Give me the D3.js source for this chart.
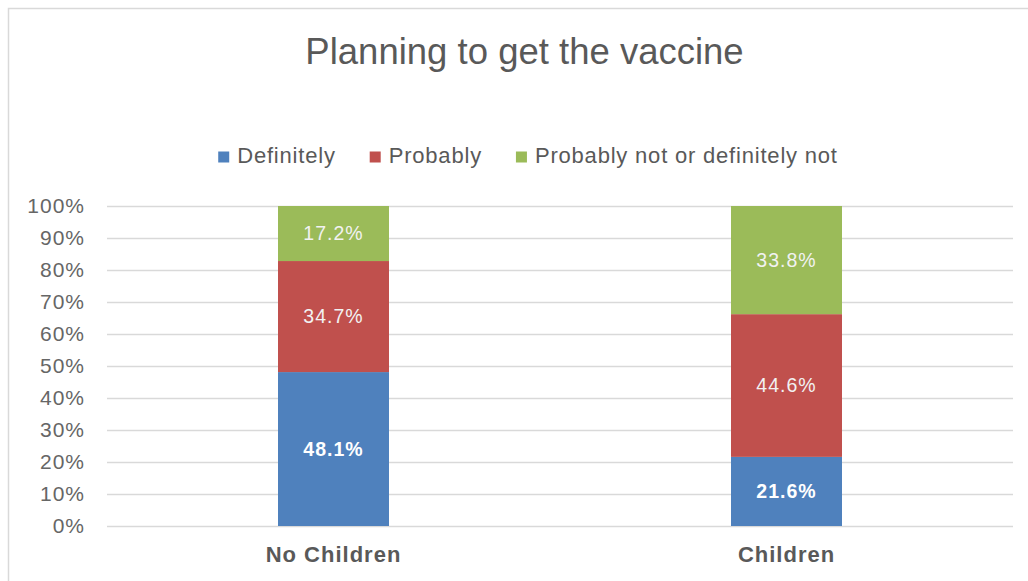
<!DOCTYPE html>
<html>
<head>
<meta charset="utf-8">
<script src="https://cdn.jsdelivr.net/npm/d3@7"></script>
<style>
  html, body { margin: 0; padding: 0; background: #ffffff; }
  svg { display: block; font-family: "Liberation Sans", Arial, sans-serif; }
</style>
</head>
<body>
<svg id="chart" width="1028" height="581"></svg>
<script>
// Survey shares, by household type
const categories = ["No Children", "Children"];
const seriesNames = ["Definitely", "Probably", "Probably not or definitely not"];
const definitely = [48.1, 21.6];
const probably = [34.7, 44.6];
const probablyNot = [17.2, 33.8];
const yTicks = [0, 10, 20, 30, 40, 50, 60, 70, 80, 90, 100];
const titleText = "Planning to get the vaccine";

const colors = ["#4f81bd", "#c0504d", "#9bbb59"];
const seriesValues = [definitely, probably, probablyNot];

const rows = categories.map((c, i) => {
  const r = { category: c };
  seriesNames.forEach((s, k) => { r[s] = seriesValues[k][i]; });
  return r;
});
const stacked = d3.stack().keys(seriesNames)(rows);

const svg = d3.select("#chart");

// outer frame
svg.append("rect")
  .attr("x", 8.5).attr("y", 8.5)
  .attr("width", 1040).attr("height", 600)
  .attr("fill", "#ffffff")
  .attr("stroke", "#d9d9d9").attr("stroke-width", 1.5);

const plot = { left: 107, right: 1013, top: 206, bottom: 526 };

const x = d3.scaleBand().domain(categories)
  .range([plot.left, plot.right]).paddingInner(0.755).paddingOuter(0.3775);
const y = d3.scaleLinear().domain([0, 100]).range([plot.bottom, plot.top]);

// title
svg.append("text")
  .attr("x", 524.5).attr("y", 64)
  .attr("text-anchor", "middle")
  .attr("font-size", 36.5)
  .attr("fill", "#595959")
  .text(titleText);

// gridlines
const grid = d3.axisLeft(y).tickValues(yTicks).tickSize(-(plot.right - plot.left)).tickFormat("");
const gridG = svg.append("g").attr("transform", `translate(${plot.left},0)`).call(grid);
gridG.select(".domain").remove();
gridG.selectAll(".tick line").attr("stroke", "#d9d9d9").attr("stroke-width", 1.5);

// y axis labels
const yAxis = d3.axisLeft(y).tickValues(yTicks).tickSize(0).tickPadding(22).tickFormat(d => d + "%");
const yG = svg.append("g").attr("transform", `translate(${plot.left},0)`).call(yAxis);
yG.select(".domain").remove();
yG.selectAll(".tick text")
  .attr("font-family", "Liberation Sans, Arial, sans-serif")
  .attr("font-size", 21).attr("letter-spacing", 1)
  .attr("fill", "#666666");

// bars
const layers = svg.append("g").selectAll("g").data(stacked).join("g")
  .attr("fill", (d, i) => colors[i]);
layers.selectAll("rect").data(d => d).join("rect")
  .attr("x", d => x(d.data.category))
  .attr("width", x.bandwidth())
  .attr("y", d => y(d[1]))
  .attr("height", d => y(d[0]) - y(d[1]));

// value labels
stacked.forEach((layer, k) => {
  svg.append("g").selectAll("text").data(layer).join("text")
    .attr("x", d => x(d.data.category) + x.bandwidth() / 2)
    .attr("y", d => y((d[0] + d[1]) / 2))
    .attr("dy", "0.35em")
    .attr("text-anchor", "middle")
    .attr("font-size", 19.5)
    .attr("letter-spacing", 1)
    .attr("font-weight", k === 0 ? "bold" : "normal")
    .attr("fill", k === 0 ? "#ffffff" : "#f2f2f2")
    .text(d => (d[1] - d[0]).toFixed(1) + "%");
});

// category axis labels
const xAxis = d3.axisBottom(x).tickSize(0).tickPadding(20);
const xG = svg.append("g").attr("transform", `translate(0,${plot.bottom})`).call(xAxis);
xG.select(".domain").remove();
xG.selectAll(".tick text")
  .attr("font-family", "Liberation Sans, Arial, sans-serif")
  .attr("font-size", 22).attr("font-weight", "bold").attr("letter-spacing", 1)
  .attr("fill", "#595959");

// legend
const legend = svg.append("g");
const items = legend.selectAll("g").data(seriesNames).join("g");
items.append("rect")
  .attr("width", 11).attr("height", 11)
  .attr("y", -11.5)
  .attr("fill", (d, i) => colors[i]);
items.append("text")
  .attr("x", 19)
  .attr("font-size", 22)
  .attr("letter-spacing", 0.8)
  .attr("fill", "#595959")
  .text(d => d);
const gap = 34;
let cursor = 0;
items.each(function () {
  const g = d3.select(this);
  g.attr("transform", `translate(${cursor},0)`);
  cursor += 19 + g.select("text").node().getComputedTextLength() + gap;
});
const legendWidth = cursor - gap;
legend.attr("transform", `translate(${528 - legendWidth / 2},163)`);
</script>
</body>
</html>
